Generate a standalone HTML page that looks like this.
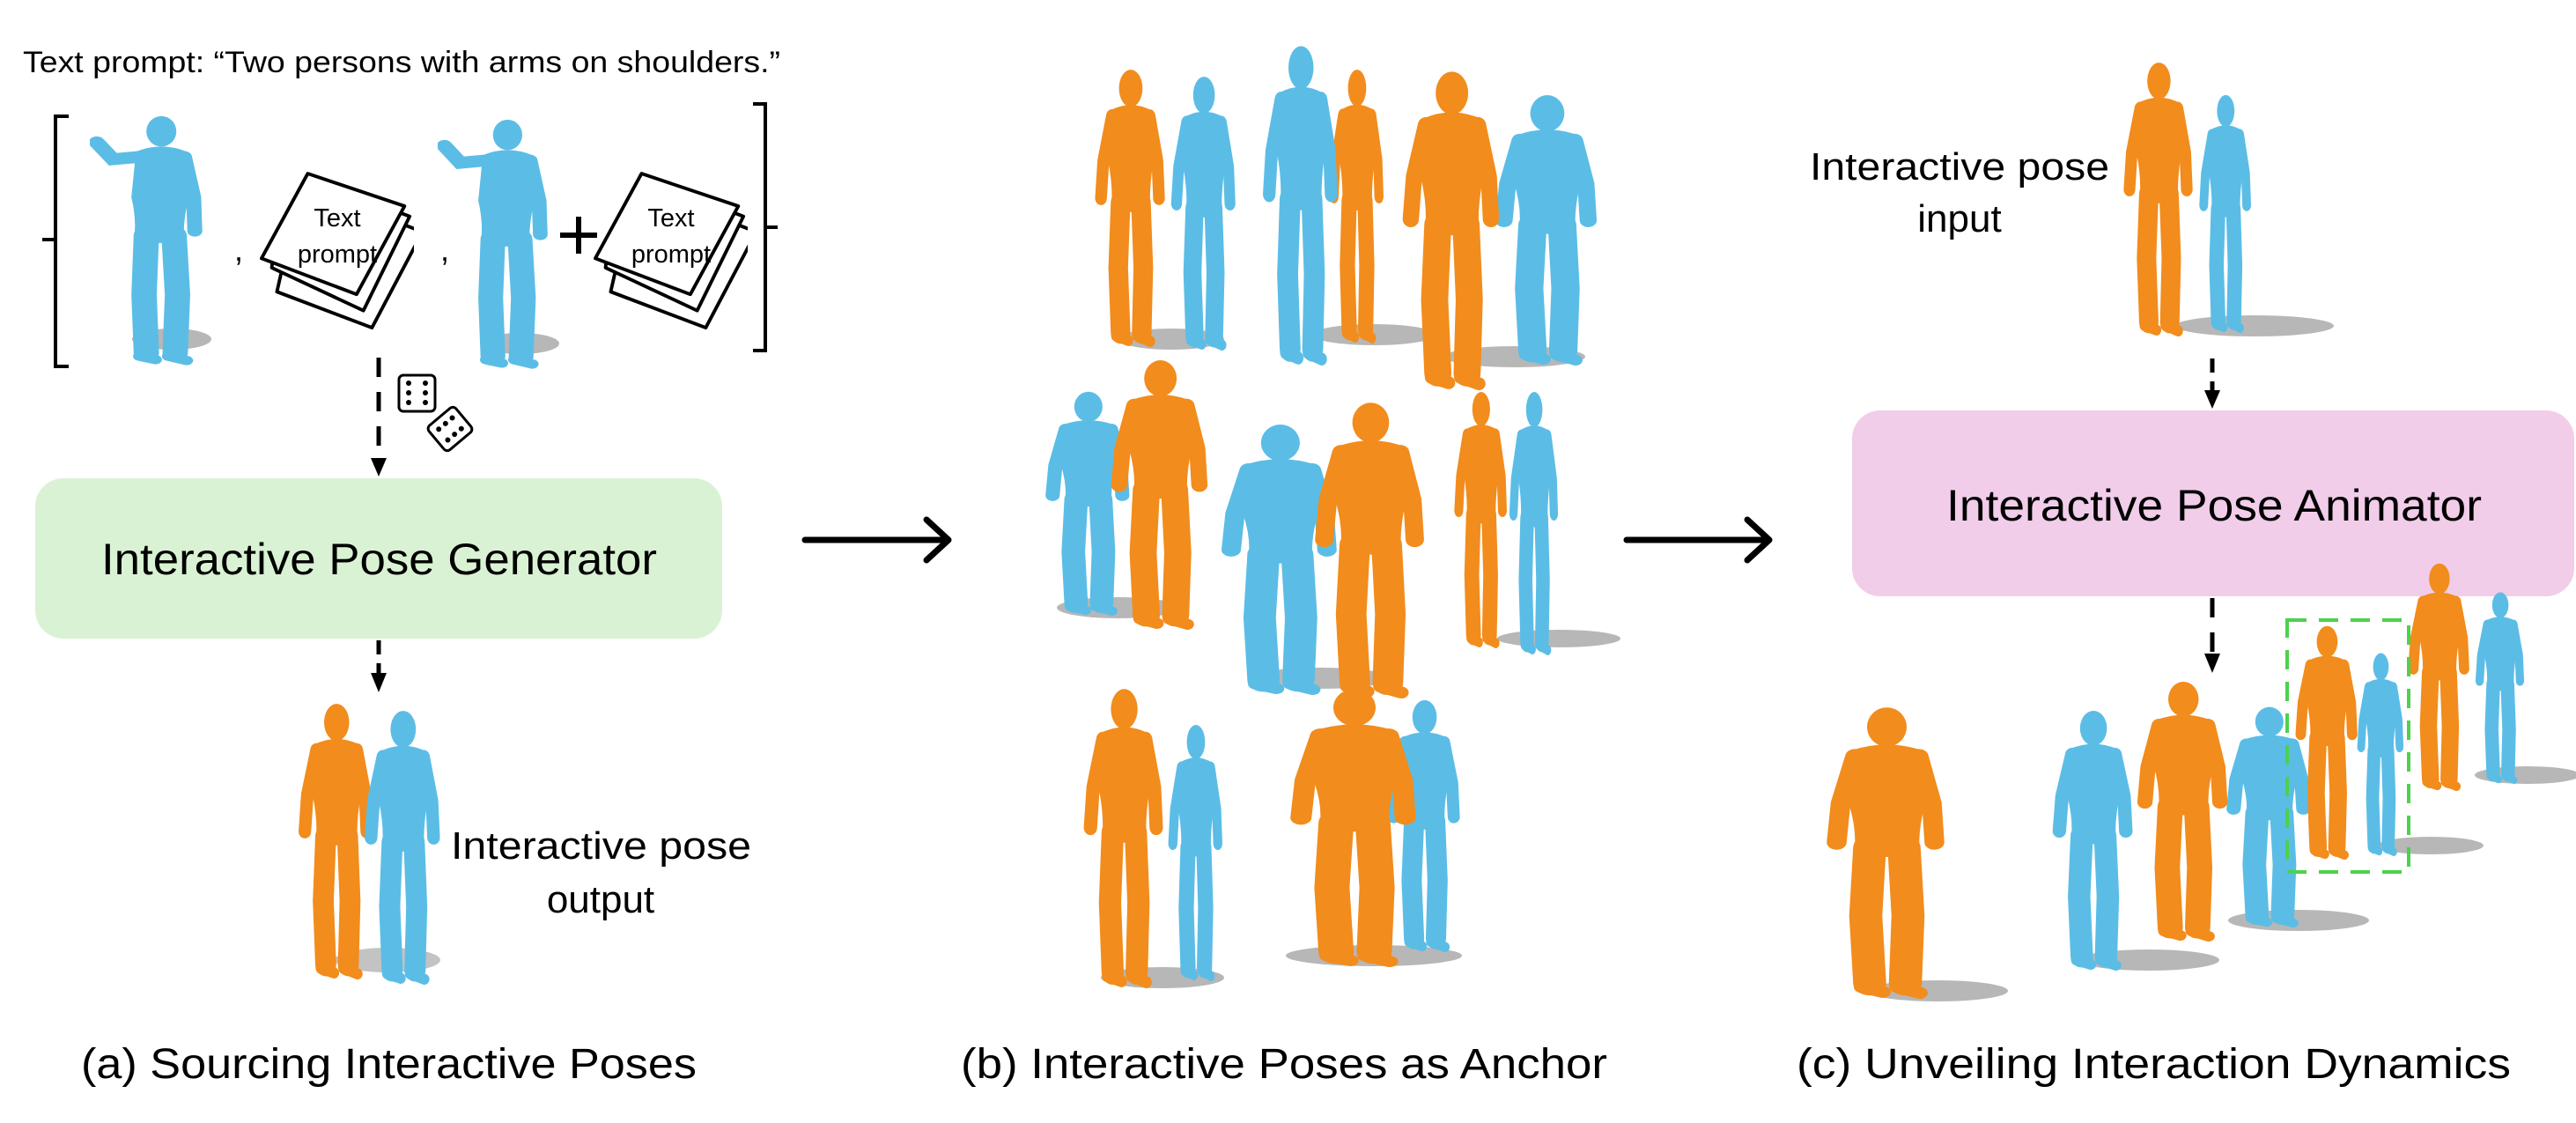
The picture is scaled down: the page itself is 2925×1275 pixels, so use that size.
<!DOCTYPE html>
<html><head><meta charset="utf-8">
<style>
html,body{margin:0;padding:0;background:#fff;}
svg{display:block;}
text{font-family:"Liberation Sans",sans-serif;fill:#000;}
</style></head>
<body>
<svg width="2925" height="1275" viewBox="0 0 2925 1275" xmlns="http://www.w3.org/2000/svg">
<defs>
  <symbol id="fig" viewBox="0 0 100 300" preserveAspectRatio="none">
    <ellipse cx="55" cy="22" rx="15" ry="20" fill="currentColor"/>
    <path d="M28 46 Q55 34 82 46 L84 100 Q78 130 80 155 L30 155 Q33 128 26 100 Z" fill="currentColor"/>
    <g stroke="currentColor" stroke-linecap="round" fill="none">
      <path d="M42 145 L39 215 L42 284" stroke-width="25"/>
      <path d="M68 145 L71 215 L69 284" stroke-width="25"/>
      <path d="M31 52 L20 100 L17 140" stroke-width="15"/>
      <path d="M79 52 L89 100 L91 140" stroke-width="15"/>
      <path d="M36 288 L52 293 M63 288 L80 294" stroke-width="12"/>
    </g>
  </symbol>
  <symbol id="figr" viewBox="0 0 100 300" preserveAspectRatio="none">
    <ellipse cx="62" cy="22" rx="13" ry="18" fill="currentColor"/>
    <path d="M40 46 Q62 34 84 46 L86 100 Q80 130 82 154 L38 154 Q41 128 36 100 Z" fill="currentColor"/>
    <g stroke="currentColor" stroke-linecap="round" fill="none">
      <path d="M49 145 L47 215 L49 284" stroke-width="22"/>
      <path d="M73 145 L76 215 L74 284" stroke-width="22"/>
      <path d="M45 52 L20 55 L6 35" stroke-width="14"/>
      <path d="M82 52 L90 100 L91 140" stroke-width="13"/>
      <path d="M43 288 L57 292 M68 288 L84 293" stroke-width="11"/>
    </g>
  </symbol>
  <symbol id="paper" viewBox="0 0 180 190">
    <g fill="#fff" stroke="#000" stroke-width="4" stroke-linejoin="round">
      <polygon points="25,118 80,28 190,70 131,182 20,140"/>
      <polygon points="16,90 65,10 175,52 121,162 14,112"/>
      <polygon points="2,101 56,2 169,40 113,143"/>
    </g>
  </symbol>
</defs>

<!-- ===== (a) ===== -->
<text x="26" y="82" font-size="34" textLength="860" lengthAdjust="spacingAndGlyphs">Text prompt: “Two persons with arms on shoulders.”</text>
<path d="M78 132 L63 132 L63 416 L78 416 M63 272 L48 272" stroke="#000" stroke-width="4" fill="none"/>
<path d="M855 118 L869 118 L869 398 L855 398 M869 258 L883 258" stroke="#000" stroke-width="4" fill="none"/>

<ellipse cx="195" cy="385" rx="45" ry="12" fill="#999" opacity="0.7"/>
<use href="#figr" x="102" y="128" width="131" height="288" color="#5bbde6"/>
<text x="266" y="296" font-size="36">,</text>
<use href="#paper" x="295" y="195" width="175" height="185"/>
<text x="383" y="257" font-size="29" text-anchor="middle">Text</text>
<text x="383" y="298" font-size="29" text-anchor="middle">prompt</text>

<ellipse cx="590" cy="390" rx="45" ry="12" fill="#999" opacity="0.7"/>
<use href="#figr" x="497" y="132" width="128" height="288" color="#5bbde6"/>
<text x="500" y="296" font-size="36">,</text>
<path d="M636 267 L678 267 M657 246 L657 288" stroke="#000" stroke-width="6"/>
<use href="#paper" x="674" y="195" width="175" height="185"/>
<text x="762" y="257" font-size="29" text-anchor="middle">Text</text>
<text x="762" y="298" font-size="29" text-anchor="middle">prompt</text>

<!-- dice -->
<rect x="453" y="426" width="41" height="41" rx="5" fill="#fff" stroke="#000" stroke-width="3"/>
<g fill="#000"><circle cx="464" cy="435" r="3"/><circle cx="483" cy="435" r="3"/><circle cx="464" cy="446" r="3"/><circle cx="483" cy="446" r="3"/><circle cx="464" cy="457" r="3"/><circle cx="483" cy="457" r="3"/></g>
<g transform="translate(511,487) rotate(-40)">
  <rect x="-20" y="-18" width="40" height="36" rx="5" fill="#fff" stroke="#000" stroke-width="3"/>
  <g fill="#000"><circle cx="-10" cy="-8" r="3"/><circle cx="0" cy="-8" r="3"/><circle cx="10" cy="-8" r="3"/><circle cx="-10" cy="8" r="3"/><circle cx="0" cy="8" r="3"/><circle cx="10" cy="8" r="3"/></g>
</g>

<line x1="430" y1="406" x2="430" y2="522" stroke="#000" stroke-width="5" stroke-dasharray="22 17"/>
<polygon points="421,520 439,520 430,541" fill="#000"/>

<rect x="40" y="543" width="780" height="182" rx="32" fill="#d9f2d3"/>
<text x="115" y="652" font-size="50" textLength="631" lengthAdjust="spacingAndGlyphs">Interactive Pose Generator</text>

<line x1="430" y1="727" x2="430" y2="768" stroke="#000" stroke-width="5" stroke-dasharray="16 10"/>
<polygon points="421,764 439,764 430,786" fill="#000"/>

<ellipse cx="440" cy="1090" rx="60" ry="14" fill="#aaa" opacity="0.7"/>
<use href="#fig" x="330" y="797" width="95" height="315" color="#f28c1c"/>
<use href="#fig" x="405" y="805" width="96" height="313" color="#5bbde6"/>
<text x="512" y="975" font-size="44" textLength="341" lengthAdjust="spacingAndGlyphs">Interactive pose</text>
<text x="682" y="1036" font-size="44" text-anchor="middle">output</text>

<text x="92" y="1224" font-size="48" textLength="699" lengthAdjust="spacingAndGlyphs">(a) Sourcing Interactive Poses</text>

<!-- main arrows -->
<g stroke="#000" stroke-width="7" stroke-linecap="round" fill="none" stroke-linejoin="round">
  <path d="M914 613 L1076 613 M1052 590 L1077 613 L1052 636"/>
  <path d="M1847 613 L2008 613 M1984 590 L2009 613 L1984 636"/>
</g>

<!-- ===== (b) ===== -->
<g fill="#999" opacity="0.7">
  <ellipse cx="1330" cy="385" rx="60" ry="12"/><ellipse cx="1560" cy="380" rx="70" ry="12"/><ellipse cx="1720" cy="405" rx="80" ry="12"/>
  <ellipse cx="1270" cy="690" rx="70" ry="12"/><ellipse cx="1500" cy="770" rx="80" ry="12"/><ellipse cx="1770" cy="725" rx="70" ry="10"/>
  <ellipse cx="1320" cy="1110" rx="70" ry="12"/><ellipse cx="1560" cy="1085" rx="100" ry="12"/>
</g>
<use href="#fig" x="1235" y="77" width="89" height="317" color="#f28c1c"/>
<use href="#fig" x="1322" y="85" width="82" height="313" color="#5bbde6"/>
<use href="#fig" x="1503" y="77" width="69" height="313" color="#f28c1c"/>
<use href="#fig" x="1425" y="50" width="95" height="365" color="#5bbde6"/>
<use href="#fig" x="1686" y="106" width="129" height="309" color="#5bbde6"/>
<use href="#fig" x="1581" y="79" width="123" height="364" color="#f28c1c"/>

<use href="#fig" x="1177" y="443" width="107" height="256" color="#5bbde6"/>
<use href="#fig" x="1250" y="407" width="123" height="308" color="#f28c1c"/>
<use href="#fig" x="1373" y="480" width="147" height="309" color="#5bbde6"/>
<use href="#fig" x="1480" y="455" width="139" height="338" color="#f28c1c"/>
<use href="#fig" x="1645" y="443" width="67" height="293" color="#f28c1c"/>
<use href="#fig" x="1708" y="443" width="62" height="301" color="#5bbde6"/>

<use href="#fig" x="1320" y="821" width="69" height="293" color="#5bbde6"/>
<use href="#fig" x="1221" y="780" width="101" height="342" color="#f28c1c"/>
<use href="#fig" x="1567" y="793" width="92" height="288" color="#5bbde6"/>
<use href="#fig" x="1450" y="780" width="160" height="318" color="#f28c1c"/>

<text x="1091" y="1224" font-size="48" textLength="734" lengthAdjust="spacingAndGlyphs">(b) Interactive Poses as Anchor</text>

<!-- ===== (c) ===== -->
<text x="2055" y="204" font-size="44" textLength="340" lengthAdjust="spacingAndGlyphs">Interactive pose</text>
<text x="2225" y="263" font-size="44" text-anchor="middle">input</text>
<ellipse cx="2560" cy="370" rx="90" ry="12" fill="#999" opacity="0.7"/>
<use href="#fig" x="2491" y="106" width="66" height="272" color="#5bbde6"/>
<use href="#fig" x="2403" y="69" width="88" height="313" color="#f28c1c"/>

<line x1="2512" y1="407" x2="2512" y2="446" stroke="#000" stroke-width="5" stroke-dasharray="16 10"/>
<polygon points="2503,443 2521,443 2512,464" fill="#000"/>

<rect x="2103" y="466" width="820" height="211" rx="32" fill="#f1cdea"/>
<text x="2210" y="591" font-size="50" textLength="608" lengthAdjust="spacingAndGlyphs">Interactive Pose Animator</text>

<line x1="2512" y1="679" x2="2512" y2="745" stroke="#000" stroke-width="5" stroke-dasharray="22 17"/>
<polygon points="2503,742 2521,742 2512,764" fill="#000"/>

<g fill="#999" opacity="0.7">
  <ellipse cx="2200" cy="1125" rx="80" ry="12"/><ellipse cx="2440" cy="1090" rx="80" ry="12"/>
  <ellipse cx="2610" cy="1045" rx="80" ry="12"/><ellipse cx="2760" cy="960" rx="60" ry="10"/>
  <ellipse cx="2870" cy="880" rx="60" ry="10"/>
</g>
<use href="#fig" x="2060" y="801" width="150" height="333" color="#f28c1c"/>
<use href="#fig" x="2321" y="805" width="102" height="297" color="#5bbde6"/>
<use href="#fig" x="2518" y="801" width="107" height="252" color="#5bbde6"/>
<use href="#fig" x="2416" y="772" width="115" height="297" color="#f28c1c"/>
<use href="#fig" x="2671" y="740" width="59" height="232" color="#5bbde6"/>
<use href="#fig" x="2599" y="709" width="79" height="267" color="#f28c1c"/>
<use href="#fig" x="2805" y="671" width="62" height="219" color="#5bbde6"/>
<use href="#fig" x="2727" y="638" width="78" height="260" color="#f28c1c"/>
<rect x="2597" y="704" width="138" height="286" fill="none" stroke="#4cd24c" stroke-width="4" stroke-dasharray="22 14"/>

<text x="2040" y="1224" font-size="48" textLength="811" lengthAdjust="spacingAndGlyphs">(c) Unveiling Interaction Dynamics</text>
</svg>
</body></html>
